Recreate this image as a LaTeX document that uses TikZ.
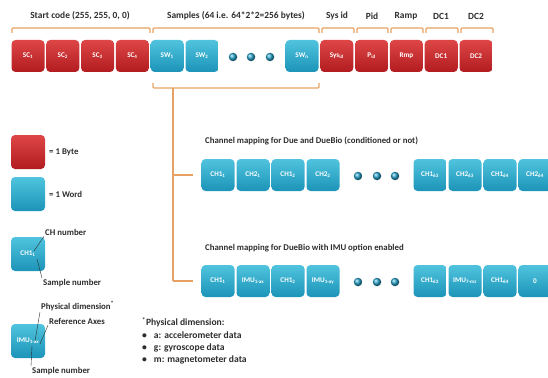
\documentclass[tikz,border=0pt]{standalone}
\usepackage{fontspec}
\setmainfont{Carlito}

\definecolor{bytetop}{RGB}{222,70,70}
\definecolor{bytebot}{RGB}{178,28,32}
\definecolor{wordtop}{RGB}{80,196,222}
\definecolor{wordbot}{RGB}{28,148,184}
\definecolor{wordmid}{RGB}{40,160,200}
\definecolor{bracecol}{RGB}{230,162,98}
\definecolor{labelgray}{RGB}{45,45,45}

\newcommand{\sbs}[1]{\textsubscript{#1}}

\tikzset{
  cell/.style={rounded corners=4pt, minimum width=33pt, minimum height=32pt,
    inner sep=0pt, text=white, font=\bfseries\fontsize{7.2}{8}\selectfont},
  byte/.style={cell, top color=bytetop, bottom color=bytebot},
  word/.style={cell, top color=wordtop, bottom color=wordbot},
  dot/.style={circle, ball color=wordmid, inner sep=0pt, minimum size=8.5pt},
  brace/.style={draw=bracecol, line width=1.1pt, rounded corners=1pt},
  lbl/.style={font=\bfseries\fontsize{8.8}{11.8}\selectfont, text=labelgray, inner sep=1pt},
  toplbl/.style={lbl, font=\bfseries\fontsize{9.4}{11}\selectfont},
  pointer/.style={draw=labelgray, thin}
}

\begin{document}
\begin{tikzpicture}[x=1pt,y=-1pt]
  \useasboundingbox (0,0) rectangle (548,377);

  % packet header labels
  \node[toplbl] (tstart) at (80,16) {Start code (255, 255, 0, 0)};
  \node[toplbl] (tsamp) at (236,16) {Samples (64 i.e. 64*2*2=256 bytes)};
  \node[toplbl] (tsys) at (337,16) {Sys id};
  \node[toplbl] (tpid) at (372,16) {Pid};
  \node[toplbl] (tramp) at (406,16) {Ramp};
  \node[toplbl] (tdc1) at (441,16) {DC1};
  \node[toplbl] (tdc2) at (476,16) {DC2};

  % brackets
  \draw[brace] (12,33) -- (12,28) -- (150,28) -- (150,33);
  \draw[brace] (153,33) -- (153,28) -- (319,28) -- (319,33);
  \draw[brace] (322,33) -- (322,28) -- (354,28) -- (354,33);
  \draw[brace] (357,33) -- (357,28) -- (388,28) -- (388,33);
  \draw[brace] (391,33) -- (391,28) -- (423,28) -- (423,33);
  \draw[brace] (426,33) -- (426,28) -- (458,28) -- (458,33);
  \draw[brace] (461,33) -- (461,28) -- (493,28) -- (493,33);

  % packet
  \node[byte] (sc1) at (28,56) {SC\sbs{1}};
  \node[byte] (sc2) at (62.8,56) {SC\sbs{2}};
  \node[byte] (sc3) at (97.6,56) {SC\sbs{3}};
  \node[byte] (sc4) at (132.4,56) {SC\sbs{4}};
  \node[word] (sw1) at (167.2,56) {SW\sbs{1}};
  \node[word] (sw2) at (202,56) {SW\sbs{2}};
  \node[dot] (d1) at (233,57) {};
  \node[dot] (d2) at (251,57) {};
  \node[dot] (d3) at (270,57) {};
  \node[word] (swn) at (302,56) {SW\sbs{n}};
  \node[byte] (sys) at (336.8,56) {Sys\sbs{id}};
  \node[byte] (pid) at (371.6,56) {P\sbs{id}};
  \node[byte] (rmp) at (406.4,56) {Rmp};
  \node[byte] (dc1) at (441.2,56) {DC1};
  \node[byte] (dc2) at (476,56) {DC2};

  % samples bracket and branches
  \draw[brace] (153,83) -- (153,88) -- (319,88) -- (319,83);
  \coordinate (split) at (173,88);
  \coordinate (br1) at (173,175);
  \coordinate (br2) at (173,281);
  \draw[brace] (split) -- (br2);

  % channel mapping, Due and DueBio
  \node[lbl, anchor=west] (map1) at (204,141) {Channel mapping for Due and DueBio (conditioned or not)};
  \node[word] (ra1) at (218,175) {CH1\sbs{1}};
  \node[word] (ra2) at (253,175) {CH2\sbs{1}};
  \node[word] (ra3) at (288,175) {CH1\sbs{2}};
  \node[word] (ra4) at (323,175) {CH2\sbs{2}};
  \node[dot] (ra5) at (358,176) {};
  \node[dot] (ra6) at (377,176) {};
  \node[dot] (ra7) at (395,176) {};
  \node[word] (ra8) at (430,175) {CH1\sbs{63}};
  \node[word] (ra9) at (465,175) {CH2\sbs{63}};
  \node[word] (ra10) at (500,175) {CH1\sbs{64}};
  \node[word] (ra11) at (535,175) {CH2\sbs{64}};
  \draw[brace] (br1) -- ([xshift=-8pt]ra1.west);

  % channel mapping, DueBio with IMU
  \node[lbl, anchor=west] (map2) at (204,248) {Channel mapping for DueBio with IMU option enabled};
  \node[word] (rb1) at (218,281) {CH1\sbs{1}};
  \node[word] (rb2) at (253,281) {IMU\sbs{1-ax}};
  \node[word] (rb3) at (288,281) {CH1\sbs{2}};
  \node[word] (rb4) at (323,281) {IMU\sbs{1-ay}};
  \node[dot] (rb5) at (358,282) {};
  \node[dot] (rb6) at (377,282) {};
  \node[dot] (rb7) at (395,282) {};
  \node[word] (rb8) at (430,281) {CH1\sbs{63}};
  \node[word] (rb9) at (465,281) {IMU\sbs{7-mz}};
  \node[word] (rb10) at (500,281) {CH1\sbs{64}};
  \node[word] (rb11) at (535,281) {0};
  \draw[brace] (br2) -- ([xshift=-8pt]rb1.west);

  % legend
  \node[byte, minimum width=34pt, minimum height=34pt] (lgbyte) at (28,152) {};
  \node[lbl, anchor=west] (lgbytet) at (48,152) {= 1 Byte};
  \node[word, minimum width=34pt, minimum height=34pt] (lgword) at (28,194) {};
  \node[lbl, anchor=west] (lgwordt) at (48,194) {= 1 Word};

  \node[word, minimum width=34pt, minimum height=34pt] (lgch) at (28,254) {CH1\sbs{1}};
  \node[lbl, anchor=west] (chnum) at (44,232) {CH number};
  \node[lbl, anchor=west] (chsmp) at (42,283) {Sample number};
  \draw[pointer] (34,251) -- (chnum.south west);
  \draw[pointer] (37,259) -- (chsmp.north west);

  \node[word, minimum width=34pt, minimum height=34pt] (lgimu) at (28,341) {IMU\sbs{1-ax}};
  \node[lbl, anchor=west] (phys) at (40,306) {Physical dimension\textsuperscript{*}};
  \node[lbl, anchor=west] (axes) at (48,321) {Reference Axes};
  \node[lbl, anchor=west] (imusmp) at (31,371) {Sample number};
  \draw[pointer] (35,341) -- (phys.south west);
  \draw[pointer] (40,344) -- (axes.south west);
  \draw[pointer] (32,346) -- (imusmp.north west);

  % footnote
  \node[lbl, anchor=north west, align=left, font=\bfseries\fontsize{9.6}{12.4}\selectfont] (note) at (141,316) {%
    \textsuperscript{*}Physical dimension:\\
    \textbullet\hspace{7pt}a: accelerometer data\\
    \textbullet\hspace{7pt}g: gyroscope data\\
    \textbullet\hspace{7pt}m: magnetometer data};
\end{tikzpicture}
\end{document}
